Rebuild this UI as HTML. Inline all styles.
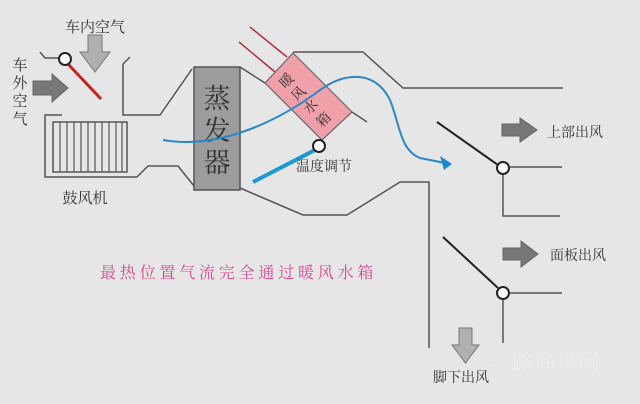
<!DOCTYPE html>
<html><head><meta charset="utf-8"><style>
html,body{margin:0;padding:0;background:#e6e6e6;}
svg{display:block}
text{font-family:"Liberation Serif","Noto Serif CJK SC","Noto Sans CJK SC",serif;fill:#333}
</style></head><body>
<svg width="640" height="404" viewBox="0 0 640 404">
<rect width="640" height="404" fill="#e6e6e6"/>
<g fill="none" stroke="#555" stroke-width="1.5">
<!-- inlet duct -->
<polyline points="40,52 45,58 60,58"/>
<polyline points="130,57 123,64 123,115 160,115 192,69"/>
<polyline points="62,115 45,115 45,177 137,177 148,166 178,166 194,186"/>
<!-- fan -->
<rect x="53" y="122" width="74" height="50"/>
</g>
<g stroke="#555" stroke-width="1.2">
<line x1="60" y1="122" x2="60" y2="172"/><line x1="67" y1="122" x2="67" y2="172"/><line x1="74" y1="122" x2="74" y2="172"/><line x1="81" y1="122" x2="81" y2="172"/><line x1="88" y1="122" x2="88" y2="172"/><line x1="95" y1="122" x2="95" y2="172"/><line x1="102" y1="122" x2="102" y2="172"/><line x1="109" y1="122" x2="109" y2="172"/><line x1="116" y1="122" x2="116" y2="172"/><line x1="122" y1="122" x2="122" y2="172"/>
</g>
<!-- evaporator -->
<rect x="194" y="67" width="46" height="123" fill="#9c9c9c" stroke="#555" stroke-width="1.5"/>
<text x="217" y="108" font-size="27" text-anchor="middle">蒸</text>
<text x="217" y="140" font-size="27" text-anchor="middle">发</text>
<text x="217" y="172" font-size="27" text-anchor="middle">器</text>
<!-- main duct -->
<g fill="none" stroke="#555" stroke-width="1.5">
<polyline points="240,67 265,83"/>
<polyline points="293,52 363,52 403,88 563,88"/>
<polyline points="352,112 367,122"/>
<polyline points="240,188 303,215 347,215 400,182 429,182 429,348"/>
<!-- outlets -->
<polyline points="510,167 562,167"/>
<polyline points="503,173 503,216 560,216"/>
<polyline points="510,293 562,293"/>
<polyline points="503,299 503,343"/>
</g>
<!-- red pipes -->
<line x1="250" y1="27" x2="287" y2="57" stroke="#b03040" stroke-width="1.5"/>
<line x1="239" y1="42" x2="275" y2="72" stroke="#b03040" stroke-width="1.5"/>
<!-- heater core -->
<polygon points="265,83 293,53 352,112 322,140" fill="#f0a0a8" stroke="#666" stroke-width="1.2"/>
<g font-size="14">
<text transform="translate(290,84) rotate(-45)" text-anchor="middle">暖</text>
<text transform="translate(302,97) rotate(-45)" text-anchor="middle">风</text>
<text transform="translate(314,110) rotate(-45)" text-anchor="middle">水</text>
<text transform="translate(327,123) rotate(-45)" text-anchor="middle">箱</text>
</g>
<!-- blend door -->
<line x1="253" y1="182" x2="315" y2="150" stroke="#1a9ad6" stroke-width="4"/>
<circle cx="319" cy="146" r="6" fill="#fff" stroke="#222" stroke-width="2"/>
<text x="324" y="171" font-size="14" text-anchor="middle">温度调节</text>
<!-- airflow -->
<path d="M163,140 C220,150 280,120 320,90 C345,72 375,70 390,100 C400,125 400,150 420,158 L445,163" fill="none" stroke="#2a88c8" stroke-width="2"/>
<polygon points="452,164 440,156 444,170" fill="#1a8ad0"/>
<!-- recirc door -->
<line x1="68" y1="64" x2="101" y2="99" stroke="#cc2020" stroke-width="3"/>
<circle cx="65" cy="59" r="6" fill="#fff" stroke="#222" stroke-width="2"/>
<!-- outlet doors -->
<line x1="437" y1="122" x2="498" y2="165" stroke="#222" stroke-width="2"/>
<circle cx="503" cy="168" r="6" fill="#fff" stroke="#222" stroke-width="2"/>
<line x1="443" y1="237" x2="498" y2="288" stroke="#222" stroke-width="2"/>
<circle cx="503" cy="293" r="6" fill="#fff" stroke="#222" stroke-width="2"/>
<!-- arrows -->
<polygon points="88,35 102,35 102,52 110,52 95,72 80,52 88,52" fill="#b0b0b0" stroke="#777"/>
<polygon points="33,81 52,81 52,74 68,88 52,102 52,95 33,95" fill="#777" stroke="#666"/>
<polygon points="502,124 520,124 520,118 537,130 520,142 520,136 502,136" fill="#777" stroke="#666"/>
<polygon points="503,248 521,248 521,241 538,254 521,267 521,260 503,260" fill="#777" stroke="#666"/>
<polygon points="459,328 472,328 472,345 479,345 465.5,363 452,345 459,345" fill="#b0b0b0" stroke="#777"/>
<!-- labels -->
<text x="95" y="32" font-size="15" text-anchor="middle">车内空气</text>
<g font-size="15" text-anchor="middle">
<text x="20" y="70">车</text><text x="20" y="88">外</text><text x="20" y="106">空</text><text x="20" y="124">气</text>
</g>
<text x="85" y="203" font-size="15" text-anchor="middle">鼓风机</text>
<text x="547" y="137" font-size="14">上部出风</text>
<text x="550" y="260" font-size="14">面板出风</text>
<text x="433" y="382" font-size="14">脚下出风</text>
<text x="100" y="278" font-size="16" letter-spacing="3.8" style="fill:#d54a8e">最热位置气流完全通过暖风水箱</text>
<text x="490" y="370" font-size="22" style="fill:#ececec">一路商机网</text>
</svg>
</body></html>
